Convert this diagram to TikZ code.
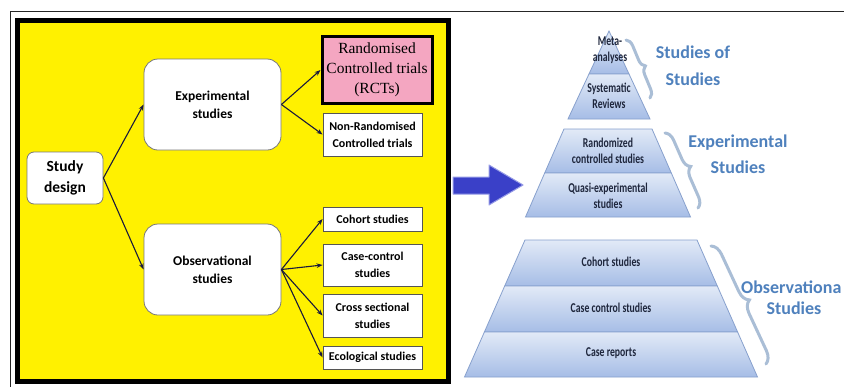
\documentclass[tikz,border=0pt]{standalone}
\usepackage{fontspec}
\setmainfont{Carlito}
\newfontfamily\serifrct{Liberation Serif}
\newfontfamily\pyrfont[FakeStretch=0.72]{Carlito}
\usetikzlibrary{arrows.meta,decorations.pathreplacing}

\definecolor{yel}{RGB}{255,241,0}
\definecolor{rctpink}{RGB}{244,166,193}
\definecolor{conncol}{RGB}{25,25,60}
\definecolor{boxborder}{RGB}{120,120,120}
\definecolor{smallborder}{RGB}{85,85,85}
\definecolor{pyrtop}{RGB}{226,234,247}
\definecolor{pyrbot}{RGB}{166,189,230}
\definecolor{pyredge}{RGB}{135,160,205}
\definecolor{pyrtext}{RGB}{30,38,60}
\definecolor{labblue}{RGB}{79,129,189}
\definecolor{bracecol}{RGB}{170,190,214}
\definecolor{bigarrowfill}{RGB}{58,64,200}
\definecolor{bigarrowedge}{RGB}{150,155,230}

\tikzset{
  bigbox/.style={draw=boxborder, line width=0.8pt, fill=white, align=center, inner sep=0pt,
    font=\bfseries\fontsize{13.5}{18}\selectfont},
  smallbox/.style={draw=smallborder, line width=0.9pt, fill=white, align=center, inner sep=0pt,
    minimum width=99pt, font=\bfseries\fontsize{12}{17}\selectfont},
  conn/.style={draw=conncol, line width=1.1pt, -{Stealth[length=6pt,width=4.5pt]}},
  band/.style={top color=pyrtop, bottom color=pyrbot, draw=pyredge, line width=0.8pt},
  pyrtxt/.style={align=center, text=pyrtext, inner sep=0pt, font=\pyrfont\bfseries\fontsize{13.5}{15.5}\selectfont},
  lab/.style={align=center, text=labblue, inner sep=0pt, font=\bfseries\fontsize{18}{26}\selectfont},
  bracestyle/.style={draw=bracecol, line width=3pt, line cap=round, decorate},
}

\begin{document}
\begin{tikzpicture}[x=1pt,y=-1pt]
\useasboundingbox (0,0) rectangle (844,386);
\fill[white] (0,0) rectangle (844,386);

% frames
\draw[line width=1.8pt, black!85] (10.5,392) -- (10.5,11.5) -- (850,11.5);
\filldraw[fill=yel, draw=black, line width=5pt] (17.5,20.5) rectangle (448.5,381.5);

% left chart
\node[bigbox, minimum width=76pt, minimum height=52pt, rounded corners=7pt,
  font=\bfseries\fontsize{15.5}{21}\selectfont] (sd) at (65,178) {Study\\design};
\node[bigbox, minimum width=137pt, minimum height=91pt, rounded corners=14pt] (exp) at (212.5,104.5) {Experimental\\studies};
\node[bigbox, minimum width=137pt, minimum height=91pt, rounded corners=14pt] (obs) at (212.5,269.5) {Observational\\studies};

\node[draw=black, line width=3pt, fill=rctpink, align=center, inner sep=0pt,
  minimum width=110pt, minimum height=67pt, text=black,
  font=\serifrct\fontsize{15.5}{20}\selectfont] (rct) at (377,70) {Randomised\\Controlled trials\\(RCTs)};
\node[smallbox, minimum height=43pt] (nonr) at (372.5,134.5) {Non-Randomised\\Controlled trials};
\node[smallbox, minimum height=24pt] (coh) at (372.5,219) {Cohort studies};
\node[smallbox, minimum height=42pt] (cc) at (372.5,265) {Case-control\\studies};
\node[smallbox, minimum height=43pt] (cs) at (372.5,315.5) {Cross sectional\\studies};
\node[smallbox, minimum height=23pt] (eco) at (372.5,357.5) {Ecological studies};

\draw[conn] (sd.east) -- (exp.west);
\draw[conn] (sd.east) -- (obs.west);
\draw[conn] (exp.east) -- (rct.west);
\draw[conn] (exp.east) -- (nonr.west);
\draw[conn] (obs.east) -- (coh.west);
\draw[conn] (obs.east) -- (cc.west);
\draw[conn] (obs.east) -- (cs.west);
\draw[conn] (obs.east) -- (eco.west);

% big blue arrow
\filldraw[fill=bigarrowfill, draw=bigarrowedge, line width=1pt, line join=round]
  (453,177) -- (489,177) -- (489,165) -- (523,185) -- (489,205) -- (489,194) -- (453,194) -- cycle;

% pyramids
\path[band] (609,31) -- (629,74) -- (589,74) -- cycle;
\path[band] (589,74) -- (629,74) -- (650,119) -- (568,119) -- cycle;
\path[band] (564,129) -- (652,129) -- (671.3,173) -- (544.7,173) -- cycle;
\path[band] (544.7,173) -- (671.3,173) -- (690.5,217) -- (525.5,217) -- cycle;
\path[band] (525,240) -- (697,240) -- (717.3,286) -- (504.7,286) -- cycle;
\path[band] (504.7,286) -- (717.3,286) -- (737.6,332) -- (484.4,332) -- cycle;
\path[band] (484.4,332) -- (737.6,332) -- (757.5,377) -- (464.5,377) -- cycle;

\node[pyrtxt] (t1) at (610,50) {Meta-\\analyses};
\node[pyrtxt] (t2) at (609,96) {Systematic\\Reviews};
\node[pyrtxt] (t3) at (608,151) {Randomized\\controlled studies};
\node[pyrtxt] (t4) at (608,196) {Quasi-experimental\\studies};
\node[pyrtxt] (t5) at (611,262) {Cohort studies};
\node[pyrtxt] (t6) at (611,308) {Case control studies};
\node[pyrtxt] (t7) at (611,353) {Case reports};

% braces
\draw[bracestyle, decoration={brace, amplitude=8pt}] (626,40) -- (650,98);
\draw[bracestyle, decoration={brace, amplitude=10pt}] (665,133) -- (698,208);
\draw[bracestyle, decoration={brace, amplitude=12pt}] (711,246) -- (766,364);

% labels
\node[lab, font=\bfseries\fontsize{18}{27}\selectfont] (l1) at (693,66) {Studies of\\Studies};
\node[lab] (l2) at (738,154) {Experimental\\Studies};
\node[lab, anchor=west] (l3) at (741,287) {Observationa};
\node[lab] (l4) at (794,308) {Studies};
\end{tikzpicture}
\end{document}
